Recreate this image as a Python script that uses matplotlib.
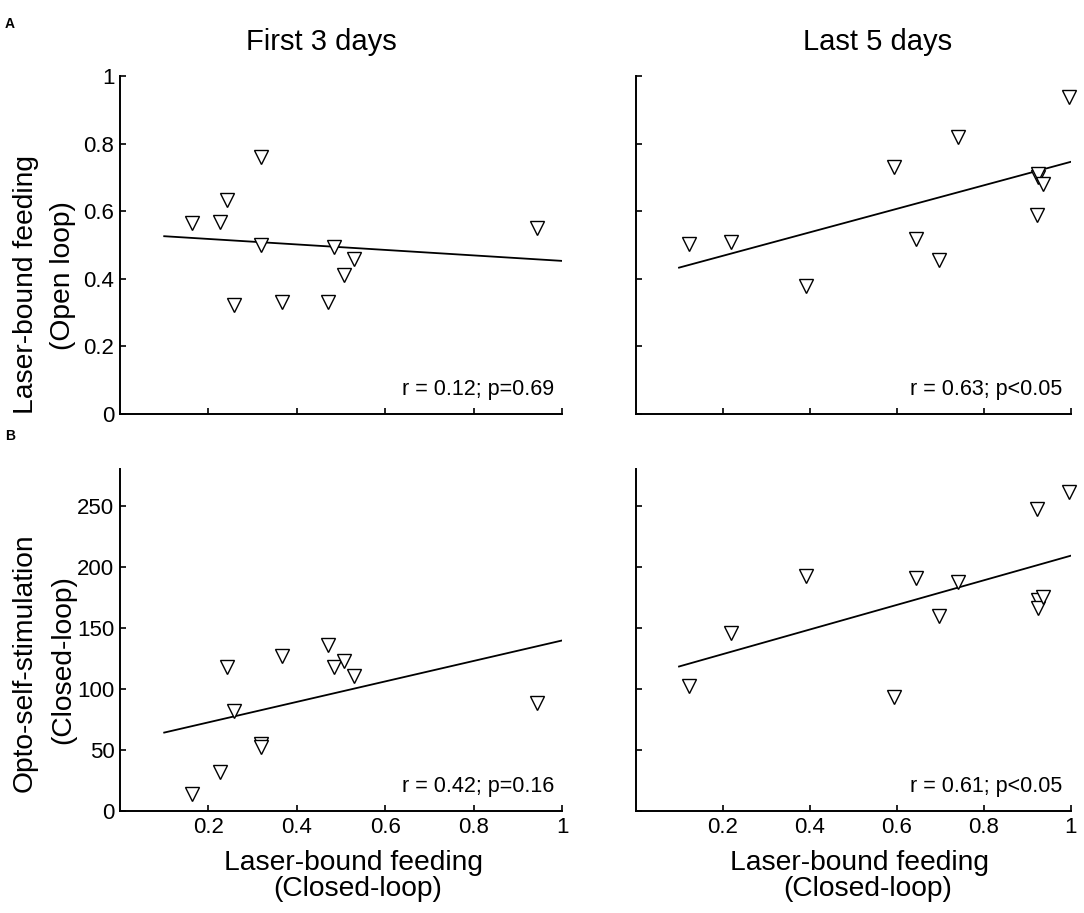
import numpy as np
import matplotlib
matplotlib.use("Agg")
import matplotlib.pyplot as plt

plt.rcParams['font.family'] = ['Liberation Sans', 'DejaVu Sans']

# ---- data ----
# First 3 days (same x for both rows)
first_x = [0.164, 0.227, 0.242, 0.259, 0.318, 0.320, 0.366, 0.470, 0.485, 0.507, 0.530, 0.944]
first_open = [0.564, 0.569, 0.633, 0.322, 0.761, 0.499, 0.331, 0.332, 0.495, 0.411, 0.459, 0.549]
first_stim = [14.2, 32.0, 117.8, 82.2, 54.7, 52.2, 127.0, 136.3, 117.8, 122.4, 110.9, 88.8]

# Last 5 days
last_x = [0.124, 0.219, 0.391, 0.595, 0.645, 0.698, 0.740, 0.922, 0.924, 0.926, 0.936, 0.995]
last_open = [0.503, 0.510, 0.379, 0.731, 0.519, 0.456, 0.819, 0.588, 0.702, 0.710, 0.681, 0.937]
last_stim = [102.7, 145.6, 192.0, 93.7, 190.7, 159.8, 187.4, 247.5, 172.7, 166.4, 175.4, 261.2]

# regression lines (end points as drawn)
fit_x = [0.1, 1.0]
fit_first_open = [0.526, 0.453]
fit_last_open = [0.433, 0.746]
fit_first_stim = [64.2, 139.6]
fit_last_stim = [118.3, 209.0]

stats = ["r = 0.12; p=0.69", "r = 0.63; p<0.05", "r = 0.42; p=0.16", "r = 0.61; p<0.05"]
titles = ["First 3 days", "Last 5 days"]

W, H = 1084, 913
fig = plt.figure(figsize=(W / 100, H / 100), dpi=100)


def fx(px):
    return px / W


def fy(py):
    return 1 - py / H


# axes boxes in pixels: left, right, top, bottom
boxes = [
    (120, 562, 76, 414),
    (635.5, 1070.7, 76, 414),
    (120, 562, 469, 811),
    (635.5, 1070.7, 469, 811),
]
panels = [
    (first_x, first_open, fit_first_open, (0, 1), [0, 0.2, 0.4, 0.6, 0.8, 1], ["0", "0.2", "0.4", "0.6", "0.8", "1"]),
    (last_x, last_open, fit_last_open, (0, 1), [0, 0.2, 0.4, 0.6, 0.8, 1], None),
    (first_x, first_stim, fit_first_stim, (0, 280), [0, 50, 100, 150, 200, 250], ["0", "50", "100", "150", "200", "250"]),
    (last_x, last_stim, fit_last_stim, (0, 280), [0, 50, 100, 150, 200, 250], None),
]

for i, (box, (xs, ys, fy_line, ylim, yt, ytl)) in enumerate(zip(boxes, panels)):
    l, r, t, b = box
    ax = fig.add_axes([fx(l), fy(b), (r - l) / W, (b - t) / H])
    ax.plot(fit_x, fy_line, color="black", lw=1.3, zorder=2)
    ax.plot(xs, ys, linestyle="none", marker="v", markersize=10.5,
            markerfacecolor="white", markeredgecolor="black", markeredgewidth=1.0,
            zorder=3, clip_on=False)
    ax.set_xlim(0, 1)
    ax.set_ylim(*ylim)
    ax.set_xticks([0.2, 0.4, 0.6, 0.8, 1.0])
    ax.set_yticks(yt)
    if i >= 2:
        ax.set_xticklabels(["0.2", "0.4", "0.6", "0.8", "1"])
    else:
        ax.set_xticklabels([])
    if ytl is not None:
        ax.set_yticklabels(ytl)
    else:
        ax.set_yticklabels([])
    for side in ["top", "right"]:
        ax.spines[side].set_visible(False)
    for side in ["left", "bottom"]:
        ax.spines[side].set_linewidth(1.4)
    ax.tick_params(direction="in", length=4, width=1.2, labelsize=16, pad=4)
    ax.patch.set_alpha(0)

    # stats text
    fig.text(fx(r - 8), fy(b - 19), stats[i], ha="right", va="baseline", fontsize=15.5)

# titles
fig.text(fx(321.5), fy(50), titles[0], ha="center", va="baseline", fontsize=21)
fig.text(fx(877.5), fy(50), titles[1], ha="center", va="baseline", fontsize=21)

# panel letters
fig.text(fx(5), fy(28), "A", ha="left", va="baseline", fontsize=10, fontweight="bold")
fig.text(fx(5), fy(440), "B", ha="left", va="baseline", fontsize=10, fontweight="bold")

# y labels (two lines each)
fig.text(fx(26), fy(284), "Laser-bound feeding", rotation=90, ha="center", va="center", fontsize=20.3)
fig.text(fx(63), fy(276), "(Open loop)", rotation=90, ha="center", va="center", fontsize=20.3)
fig.text(fx(25), fy(663), "Opto-self-stimulation", rotation=90, ha="center", va="center", fontsize=20.3)
fig.text(fx(63), fy(660), "(Closed-loop)", rotation=90, ha="center", va="center", fontsize=20.3)

# x labels
for cx1, cx2 in [(353, 358), (860, 868)]:
    fig.text(fx(cx1), fy(863), "Laser-bound feeding", ha="center", va="center", fontsize=20.3)
    fig.text(fx(cx2), fy(889), "(Closed-loop)", ha="center", va="center", fontsize=20.3)

fig.savefig("out.png", dpi=100)
